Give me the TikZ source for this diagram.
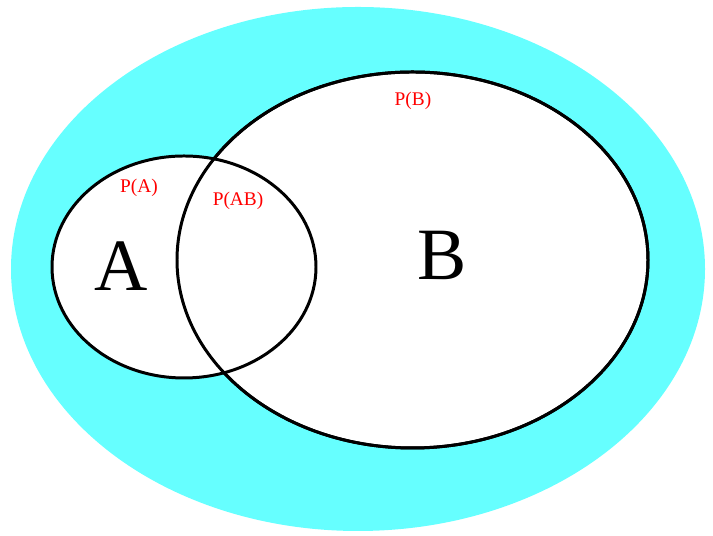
\documentclass[tikz,border=0pt]{standalone}
\usepackage{xcolor}
\usepackage{fontspec}
\setmainfont{Liberation Serif}
\usepackage{tikz}
\usetikzlibrary{
	shapes.geometric,
	positioning,
	calc
}
\definecolor{skycyan}{RGB}{102,255,255}

\begin{document}
\begin{tikzpicture}[
				setline/.style={
					draw=black, line width=1.7pt, fill=white
				},
				biglabel/.style={
					font=\fontsize{42}{42}\selectfont
				},
				problabel/.style={
					text=red, font=\fontsize{11}{11}\selectfont
				}
				]
				\useasboundingbox (0,0) rectangle (14.26,10.72);
				
				% sample space
				\fill[skycyan] (7.16,5.34) ellipse [x radius=6.94, y radius=5.24];
				
				% set B
				\draw[setline] (8.25,5.52) ellipse [x radius=4.71, y radius=3.76];
				
				% set A
				\fill[white] (3.68,5.38) ellipse [x radius=2.64, y radius=2.22];
				\draw[setline, fill=none] (3.68,5.38) ellipse [x radius=2.64, y radius=2.22];
				\draw[setline, fill=none] (8.25,5.52) ellipse [x radius=4.71, y radius=3.76];
				
				% letters
				\node[biglabel] (letterA) at (2.42,5.40) {A};
				\node[biglabel] (letterB) at (8.84,5.62) {B};
				
				% probabilities
				\node[problabel] (probA) at (2.78,6.96) {P(A)};
				\node[problabel] (probAB) at (4.76,6.70) {P(AB)};
				\node[problabel] (probB) at (8.26,8.70) {P(B)};
			\end{tikzpicture}
\end{document}
